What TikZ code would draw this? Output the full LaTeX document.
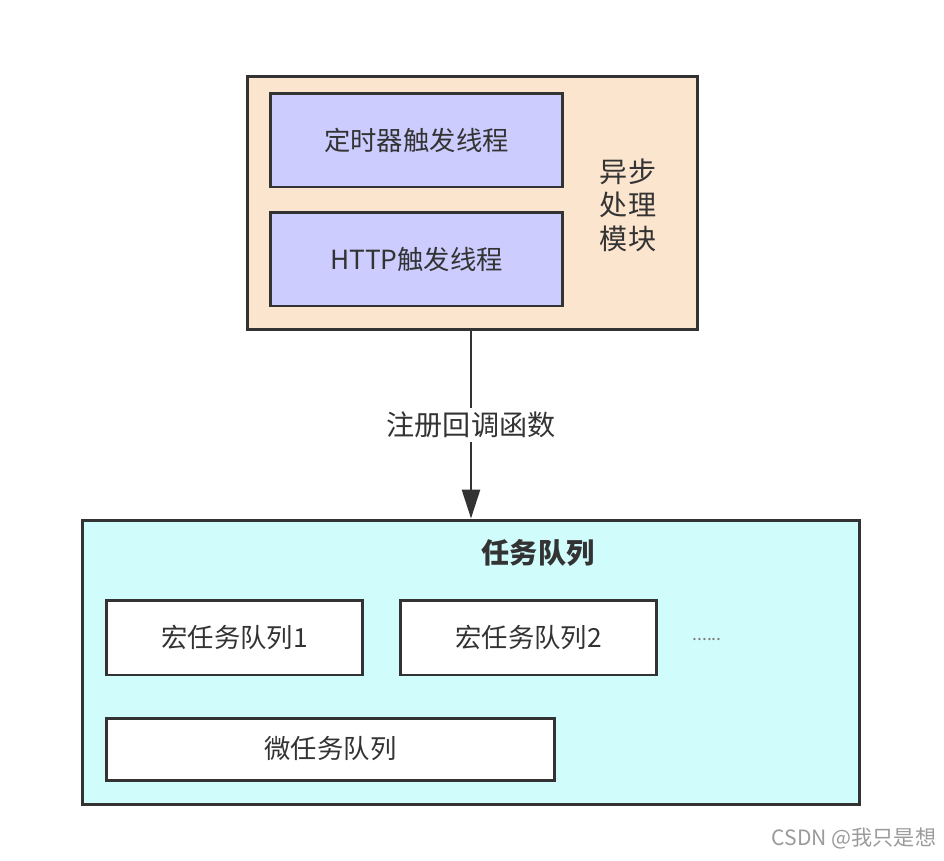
\documentclass[tikz,border=0pt]{standalone}
\usepackage{fontspec}
\setmainfont{Noto Sans CJK SC}
\usepackage{xcolor}
\usepackage{tikz}
\usetikzlibrary{positioning,arrows.meta,calc}
\definecolor{edge}{HTML}{333333}
\definecolor{ink}{HTML}{333333}
\definecolor{peach}{HTML}{FCE5CE}
\definecolor{lilac}{HTML}{CCCCFF}
\definecolor{aqua}{HTML}{D0FCFC}
\definecolor{mark}{HTML}{9A9A9A}
\newcommand{\bigtxt}{\fontsize{16pt}{19pt}\selectfont}

\begin{document}
\begin{tikzpicture}[
    x=0.02cm,y=-0.02cm,
    font=\fontsize{15pt}{18pt}\selectfont,text=ink,
    frame/.style={draw=edge,line width=1.7pt,inner sep=0pt},
    thread/.style={draw=edge,fill=lilac,line width=1.7pt,inner sep=0pt,
                   minimum width=5.86cm,minimum height=1.88cm},
    queue/.style={draw=edge,fill=white,line width=1.7pt,inner sep=0pt,
                  minimum height=1.5cm},
    flow/.style={-{Triangle[length=5.8mm,width=3.6mm]},draw=edge,line width=1.5pt},
    lbl/.style={font=\bigtxt,fill=white,inner sep=2pt}
  ]
  \useasboundingbox (0,0) rectangle (944,860);

  % async module
  \node[frame,fill=peach,minimum width=9.02cm,minimum height=5.08cm] (async) at (472.5,203) {};
  \node[thread] (timer) at (416.5,140) {定时器触发线程};
  \node[thread] (http)  at (416.5,259) {HTTP触发线程};
  \node[font=\bigtxt,align=center] (asynclbl) at (628,205) {异步\\处理\\模块};

  % task queue
  \node[frame,fill=aqua,minimum width=15.56cm,minimum height=5.7cm] (tq) at (471,662.5) {};
  \node[font=\bigtxt\bfseries] (tqlbl) at (538,553) {任务队列};
  \node[queue,minimum width=5.14cm] (macro1) at (234.5,637.5) {宏任务队列1};
  \node[queue,minimum width=5.14cm] (macro2) at (528.5,637.5) {宏任务队列2};
  \node[font=\normalsize,text=mark!80!black] (more) at (707,639) {......};
  \node[queue,minimum width=8.98cm,minimum height=1.24cm] (micro) at (330.5,749) {微任务队列};

  % callback registration
  \draw[flow] ($(async.south)+(-1.5,0)$) -- node[lbl]{注册回调函数} ($(async.south |- tq.north)+(-1.5,0)$);

  \node[font=\fontsize{12pt}{14pt}\selectfont,text=mark] (wm) at (854,838) {CSDN @我只是想};

\end{tikzpicture}
\end{document}
